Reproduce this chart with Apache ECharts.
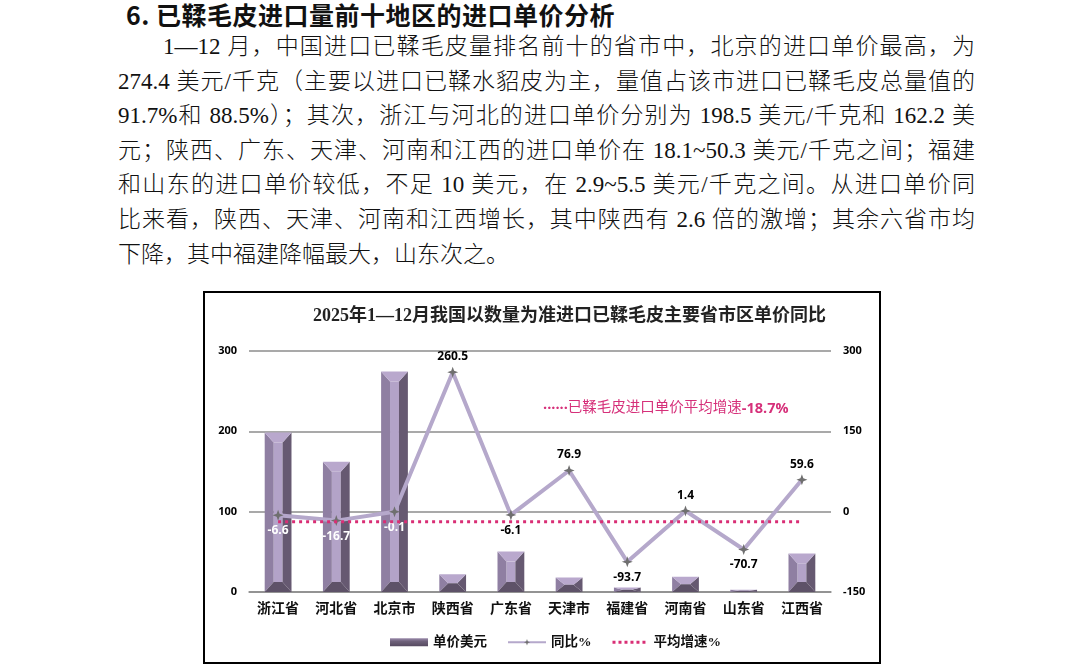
<!DOCTYPE html>
<html><head><meta charset="utf-8">
<script src="https://cdn.jsdelivr.net/npm/echarts@6/dist/echarts.min.js"></script>
<style>
html,body{margin:0;padding:0;background:#fff;width:1088px;height:666px;overflow:hidden;}
.h{position:absolute;left:126px;top:-4px;font-family:"Noto Sans CJK SC",sans-serif;font-weight:bold;font-size:25px;letter-spacing:0.5px;line-height:36px;color:#111;white-space:nowrap;}
.l{position:absolute;font-family:"Liberation Serif","Noto Sans CJK SC",serif;font-weight:300;font-size:23px;line-height:34px;color:#111;white-space:nowrap;text-align:justify;text-align-last:justify;}
#box{position:absolute;left:203px;top:291px;width:678px;height:373px;border:2px solid #000;box-sizing:border-box;}
#chart{width:674px;height:369px;}
</style></head><body>
<div class="h">6. 已鞣毛皮进口量前十地区的进口单价分析</div>
<div class="l" style="left:163px;top:30px;width:812px;">1—12 月，中国进口已鞣毛皮量排名前十的省市中，北京的进口单价最高，为</div>
<div class="l" style="left:118px;top:65px;width:857px;">274.4 美元/千克（主要以进口已鞣水貂皮为主，量值占该市进口已鞣毛皮总量值的</div>
<div class="l" style="left:118px;top:99px;width:857px;">91.7%和 88.5%）；其次，浙江与河北的进口单价分别为 198.5 美元/千克和 162.2 美</div>
<div class="l" style="left:118px;top:134px;width:857px;">元；陕西、广东、天津、河南和江西的进口单价在 18.1~50.3 美元/千克之间；福建</div>
<div class="l" style="left:118px;top:168px;width:857px;">和山东的进口单价较低，不足 10 美元，在 2.9~5.5 美元/千克之间。从进口单价同</div>
<div class="l" style="left:118px;top:203px;width:857px;">比来看，陕西、天津、河南和江西增长，其中陕西有 2.6 倍的激增；其余六省市均</div>
<div class="l" style="left:118px;top:238px;text-align:left;text-align-last:left;">下降，其中福建降幅最大，山东次之。</div>
<div id="box"><div id="chart"></div></div>
<script>
const categories = ['浙江省','河北省','北京市','陕西省','广东省','天津市','福建省','河南省','山东省','江西省'];
const unitPrice = [198.5, 162.2, 274.4, 22.0, 50.3, 18.1, 5.5, 19.0, 2.9, 48.0];
const yoyPct = [-6.6, -16.7, -0.1, 260.5, -6.1, 76.9, -93.7, 1.4, -70.7, 59.6];
const avgGrowth = -18.7;
const leftTicks = {min:0, max:300, interval:100};
const rightTicks = {min:-150, max:300, interval:150};

const avgData = categories.map(() => avgGrowth);
const toRight = v => v * (rightTicks.max - rightTicks.min) / (leftTicks.max - leftTicks.min) + rightTicks.min;

const lineData = yoyPct.map((v, i) => {
  const pos = v >= 0 ? 'top' : 'bottom';
  const labelVal = pos === 'bottom' ? v - 25 : v + 25;
  const overBar = toRight(unitPrice[i]) > labelVal;
  return {value: v, label: {position: pos, color: overBar ? '#fff' : '#000'}};
});

const C = {top:'#b9a8cd', center:'#b3a3c8', left:'#8f7fa2', right:'#665971', bottom:'#5e5268'};
function renderBar(params, api) {
  const x = api.value(0), v = api.value(1);
  const t = api.coord([x, v]), b = api.coord([x, 0]);
  const w = api.size([1, 0])[0] * 0.46;
  const x0 = t[0] - w / 2, x1 = t[0] + w / 2, y0 = t[1], y1 = b[1];
  const d = w / 3;
  const e = Math.min(10, (y1 - y0) / 2);
  const poly = (pts, c) => ({type:'polygon', shape:{points:pts}, style:{fill:c}});
  return {type:'group', children:[
    poly([[x0+d,y0+e],[x1-d,y0+e],[x1-d,y1-e],[x0+d,y1-e]], C.center),
    poly([[x0,y0],[x0+d,y0+e],[x0+d,y1-e],[x0,y1]], C.left),
    poly([[x1,y0],[x1-d,y0+e],[x1-d,y1-e],[x1,y1]], C.right),
    poly([[x0,y0],[x1,y0],[x1-d,y0+e],[x0+d,y0+e]], C.top),
    poly([[x0,y1],[x1,y1],[x1-d,y1-e],[x0+d,y1-e]], C.bottom)
  ]};
}

const star = 'path://M0,-5 L1.3,-1.3 L5,0 L1.3,1.3 L0,5 L-1.3,1.3 L-5,0 L-1.3,-1.3 Z';
const dotsIcon = 'path://M0,0 L0,0.01 M36,8 L36,8.01 M1,2.5 h3 v3 h-3 Z M7,2.5 h3 v3 h-3 Z M13,2.5 h3 v3 h-3 Z M19,2.5 h3 v3 h-3 Z M25,2.5 h3 v3 h-3 Z M31,2.5 h3 v3 h-3 Z';
const numFont = '"Open Sans", "Liberation Sans", sans-serif';
const cjk = '"Liberation Serif","Noto Sans CJK SC", serif';

const chart = echarts.init(document.getElementById('chart'));
chart.setOption({
  animation: false,
  title: {
    text: '2025年1—12月我国以数量为准进口已鞣毛皮主要省市区单价同比',
    left: 103, top: 9,
    textStyle: {fontFamily: cjk, fontSize: 18, fontWeight: 'bold', color: '#222'}
  },
  grid: {left: 44, right: 48, top: 58, bottom: 70},
  legend: {
    bottom: 8, left: 180, itemWidth: 38, itemHeight: 8, itemGap: 20,
    textStyle: {fontFamily: cjk, fontSize: 13.5, fontWeight: 'bold', color: '#111'},
    data: [
      {name: '单价美元', icon: 'rect', itemStyle: {color: new echarts.graphic.LinearGradient(0,0,0,1,[{offset:0,color:'#9a8aab'},{offset:0.4,color:'#6e617a'},{offset:1,color:'#564a60'}])}},
      {name: '同比%'},
      {name: '平均增速%', icon: dotsIcon, itemStyle: {color: '#d92e75'}}
    ]
  },
  xAxis: {
    type: 'category', data: categories,
    axisLine: {show: true, lineStyle: {color: '#8c8c8c', width: 1.5}},
    axisTick: {show: false},
    axisLabel: {fontFamily: cjk, fontSize: 14, fontWeight: 'bold', color: '#111', margin: 10}
  },
  yAxis: [
    {type: 'value', min: leftTicks.min, max: leftTicks.max, interval: leftTicks.interval,
     axisLine: {show: false}, axisTick: {show: false},
     splitLine: {lineStyle: {color: '#8c8c8c', width: 1.5}},
     axisLabel: {fontFamily: numFont, fontWeight: 'bold', fontSize: 11, color: '#000', margin: 12}},
    {type: 'value', min: rightTicks.min, max: rightTicks.max, interval: rightTicks.interval,
     axisLine: {show: false}, axisTick: {show: false}, splitLine: {show: false},
     axisLabel: {fontFamily: numFont, fontWeight: 'bold', fontSize: 11, color: '#000', margin: 12}}
  ],
  graphic: [{
    type: 'text', left: 338, top: 108,
    style: {
      text: '{d|······}{c|已鞣毛皮进口单价平均增速}{n|' + avgGrowth + '%}',
      rich: {
        d: {fill: '#d6307a', fontSize: 14.5, fontWeight: 'bold', fontFamily: numFont},
        c: {fill: '#d6307a', fontSize: 14.5, fontFamily: cjk},
        n: {fill: '#d6307a', fontSize: 14.5, fontWeight: 'bold', fontFamily: numFont}
      }
    }
  }],
  series: [
    {name: '单价美元', type: 'custom', yAxisIndex: 0, renderItem: renderBar,
     itemStyle: {color: '#6e617a'},
     encode: {x: 0, y: 1},
     data: unitPrice.map((v, i) => [i, v]), z: 2},
    {name: '同比%', type: 'line', yAxisIndex: 1, data: lineData,
     lineStyle: {color: '#b5a8cb', width: 4},
     itemStyle: {color: '#6f6f6f'},
     symbol: star, symbolSize: 11, showAllSymbol: true,
     label: {show: true, fontFamily: numFont, fontWeight: 'bold', fontSize: 12, distance: 4},
     z: 3},
    {name: '平均增速%', type: 'line', yAxisIndex: 1, data: avgData,
     symbol: 'none',
     lineStyle: {color: '#d92e75', width: 3, type: [3, 4]},
     itemStyle: {color: '#d92e75'},
     z: 4}
  ]
});
</script>
</body></html>
